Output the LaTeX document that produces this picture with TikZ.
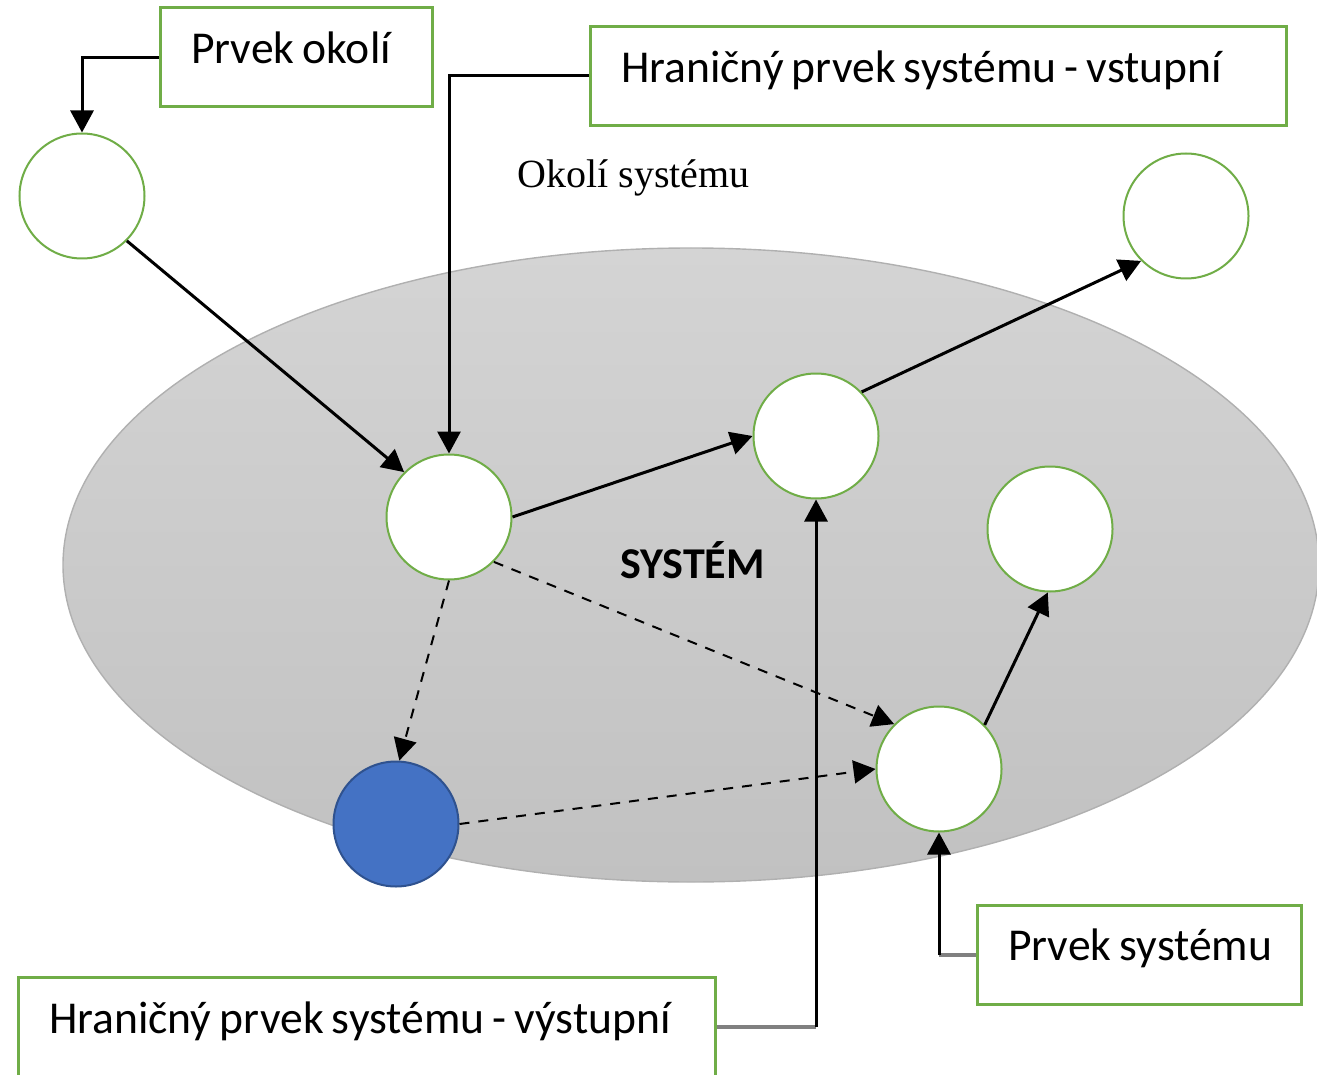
\documentclass[tikz,border=0pt]{standalone}
\usepackage{fontspec}
\setmainfont{Carlito}
\newfontfamily\serifface{Liberation Serif}
\usetikzlibrary{arrows.meta,calc}

% narrower interword space for the box labels
\newcommand\tightwords{\spaceskip=0.18em\relax}

\definecolor{boxgreen}{HTML}{70AD47}
\definecolor{sysblue}{HTML}{4472C4}
\definecolor{sysblueedge}{HTML}{2F528F}
\definecolor{elltop}{HTML}{D4D4D4}
\definecolor{ellbot}{HTML}{C1C1C1}
\definecolor{elledge}{HTML}{B0B0B0}
\definecolor{linkgray}{HTML}{808080}

\begin{document}
\begin{tikzpicture}[x=0.5pt,y=-0.5pt,
  element/.style={circle, draw=boxgreen, line width=1pt, fill=white,
    minimum size=62.5pt, inner sep=0pt},
  outputelement/.style={element, draw=sysblueedge, fill=sysblue},
  labelbox/.style={rectangle, draw=boxgreen, line width=1.5pt, fill=white,
    minimum height=49.5pt, inner xsep=15.5pt, inner ysep=0pt, align=flush left,
    text height=14pt, text depth=7.8pt,
    font=\fontsize{22.8}{26}\selectfont},
  link/.style={draw=black, line width=1.5pt, -{Triangle[length=11pt,width=11.5pt]}},
  dlink/.style={draw=black, line width=1pt, dash pattern=on 5pt off 4.5pt,
    -{Triangle[length=11pt,width=11.5pt]}},
  graylink/.style={draw=linkgray, line width=2pt},
]
\useasboundingbox (0,0) rectangle (1317,1075);

% the system boundary
\path[top color=elltop, bottom color=ellbot, draw=elledge, line width=0.7pt]
  (691,565) ellipse [x radius=628, y radius=317];

% elements
\node[element] (c1) at (82,196) {};
\node[element] (c2) at (449,517) {};
\node[element] (c3) at (816,436) {};
\node[element] (c4) at (1186,216) {};
\node[element] (c5) at (1050,529) {};
\node[element] (c6) at (939,769) {};
\node[outputelement] (blue) at (396,824) {};

% texts
\node[anchor=base west, inner sep=0pt, font=\serifface\fontsize{20}{23}\selectfont]
  (okoli) at (517,188) {Okolí systému};
\node[anchor=base west, inner sep=0pt, font=\bfseries\fontsize{22}{26}\selectfont]
  (system) at (620,578) {SYSTÉM};

% label boxes
\node[labelbox, minimum width=136pt, text width=105pt] (po) at (296,57.5)
  {\tightwords\mbox{Prvek okolí}};
\node[labelbox, minimum width=348pt, text width=317pt] (vst) at (938,76)
  {\tightwords\mbox{Hraničný prvek systému - vstupní}};
\node[labelbox, minimum width=348.5pt, minimum height=50pt, text width=317.5pt] (vys) at (366.5,1027)
  {\tightwords\mbox{Hraničný prvek systému - výstupní}};
\node[labelbox, minimum width=162pt, text width=131pt] (ps) at (1139,954.5)
  {\tightwords\mbox{Prvek systému}};

% relations between elements
\draw[link] (c1.-45) -- (c2.135);
\draw[link] (c2.east) -- (c3.west);
\draw[link] (c3.44) -- (c4.225);
\draw[link] (c6.44) -- (c5.268);
\draw[dlink] (c2.south) -- (blue.87);
\draw[dlink] (c2.-45) -- (c6.135);
\draw[dlink] (blue.east) -- (c6.west);

% callouts
\draw[link] (po.west) -| (c1.north);
\draw[link] (vst.west) -| (c2.north);
\coordinate (vcorner) at (c3.south |- vys.east);
\draw[graylink] (vys.east) -- (vcorner);
\draw[link] (vcorner) -- (c3.south);
\coordinate (scorner) at (c6.south |- ps.west);
\draw[graylink] (ps.west) -- (scorner);
\draw[link] (scorner) -- (c6.south);
\end{tikzpicture}
\end{document}
